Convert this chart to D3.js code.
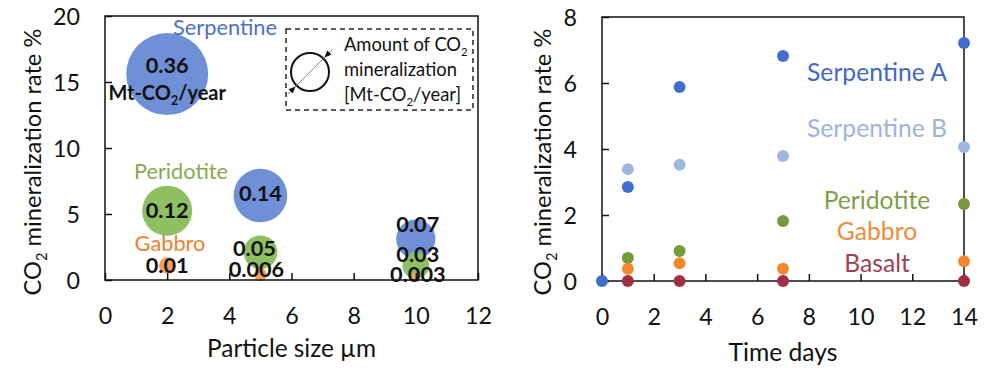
<!DOCTYPE html>
<html><head><meta charset="utf-8">
<script src="https://cdn.jsdelivr.net/npm/d3@7"></script>
<style>body{margin:0;background:#fff}svg{display:block}text{font-family:Lato,"Open Sans",sans-serif}</style>
</head><body>
<script>
// ---- Left chart data (bubble) ----
const particleSizes = [2, 5, 10];
const xTicksLeft = [0, 2, 4, 6, 8, 10, 12];
const yTicksLeft = [0, 5, 10, 15, 20];
const serpentineRate = [15.6, 6.4, 3.1];
const peridotiteRate = [5.25, 2.1, 1.1];
const gabbroRate = [1.1, 0.4, 0.2];
const serpentineAmount = [0.36, 0.14, 0.07];
const peridotiteAmount = [0.12, 0.05, 0.03];
const gabbroAmount = [0.01, 0.006, 0.003];
const serpentineLabels = ["0.36", "0.14", "0.07"];
const peridotiteLabels = ["0.12", "0.05", "0.03"];
const gabbroLabels = ["0.01", "0.006", "0.003"];

// ---- Right chart data (time series) ----
const days = [0, 1, 3, 7, 14];
const xTicksRight = [0, 2, 4, 6, 8, 10, 12, 14];
const yTicksRight = [0, 2, 4, 6, 8];
const serpentineA = [0, 2.85, 5.88, 6.82, 7.21];
const serpentineB = [null, 3.39, 3.52, 3.79, 4.06];
const peridotite = [null, 0.70, 0.91, 1.82, 2.33];
const gabbro = [null, 0.37, 0.54, 0.37, 0.60];
const basalt = [null, 0, 0, 0, 0];

const W = 993, H = 368;
const svg = d3.select("body").append("svg").attr("width", W).attr("height", H);

// font size fitting helper: returns a font size so that txt is ~target px wide
function fit(txt, target, weight) {
  const t = svg.append("text").attr("font-size", 20).attr("font-weight", weight || "normal").text(txt);
  const w = t.node().getComputedTextLength();
  t.remove();
  return 20 * target / w;
}
const FS = {
  tick: fit("20", 27),
  xTitleL: fit("Particle size µm", 169),
  xTitleR: fit("Time days", 109),
  yTitle: fit("CO2 mineralization rate %", 272),
  labL: fit("Serpentine", 104),
  labR: fit("Serpentine A", 140),
  legend: fit("mineralization", 113),
  val: fit("0.36", 43, "bold"),
  unit: fit("Mt-CO2/year", 122, "bold")
};

function drawFrame(x, y, xt, yt, xTitle, xTitleY, yTitleX, xfs) {
  const [x0, x1] = x.range(), [y0, y1] = y.range();
  const gx = svg.append("g").attr("transform", `translate(0,${y0})`)
    .call(d3.axisBottom(x).tickValues(xt).tickSizeInner(-7).tickSizeOuter(0));
  gx.select(".domain").remove();
  gx.selectAll("line").attr("stroke", "#111").attr("stroke-width", 1.5);
  gx.selectAll("text").attr("y", 36).attr("dy", "0.35em").attr("font-size", FS.tick).attr("fill", "#111").attr("font-family", null);
  const gy = svg.append("g").attr("transform", `translate(${x0},0)`)
    .call(d3.axisLeft(y).tickValues(yt).tickSizeInner(-7).tickSizeOuter(0));
  gy.select(".domain").remove();
  gy.selectAll("line").attr("stroke", "#111").attr("stroke-width", 1.5);
  gy.selectAll("text").attr("x", -25).attr("dy", "0.35em").attr("font-size", FS.tick).attr("fill", "#111").attr("font-family", null);
  svg.append("rect").attr("x", x0).attr("y", y1).attr("width", x1 - x0).attr("height", y0 - y1)
    .attr("fill", "none").attr("stroke", "#111").attr("stroke-width", 1.5);
  svg.append("text").attr("x", (x0 + x1) / 2).attr("y", xTitleY).attr("text-anchor", "middle")
    .attr("font-size", xfs).attr("fill", "#111").text(xTitle);
  const t = svg.append("text").attr("transform", `translate(${yTitleX},162) rotate(-90)`)
    .attr("text-anchor", "middle").attr("dy", "0.35em").attr("font-size", FS.yTitle).attr("fill", "#111");
  t.append("tspan").text("CO");
  t.append("tspan").attr("font-size", FS.yTitle * 0.62).attr("dy", 6).text("2");
  t.append("tspan").attr("dy", -6).text(" mineralization rate %");
}

// ---------- LEFT ----------
const xL = d3.scaleLinear([0, 12], [105, 478]);
const yL = d3.scaleLinear([0, 20], [280, 16]);
const rL = d3.scalePow().exponent(0.45).domain([0, 0.36]).range([0, 41]);

const bubbleSeries = [
  {name: "Serpentine", rate: serpentineRate, amt: serpentineAmount, lab: serpentineLabels, fill: "#6F8FD6"},
  {name: "Peridotite", rate: peridotiteRate, amt: peridotiteAmount, lab: peridotiteLabels, fill: "#8EC061"},
  {name: "Gabbro", rate: gabbroRate, amt: gabbroAmount, lab: gabbroLabels, fill: "#F5A05A"}
];
const bubbles = [];
bubbleSeries.forEach(s => particleSizes.forEach((p, i) => bubbles.push({p, r: s.rate[i], a: s.amt[i], lab: s.lab[i], fill: s.fill})));
bubbles.sort((a, b) => b.a - a.a);

svg.append("g").selectAll("circle").data(bubbles).join("circle")
  .attr("cx", d => xL(d.p)).attr("cy", d => yL(d.r)).attr("r", d => rL(d.a)).attr("fill", d => d.fill);

// label pixel nudges (style only)
const labelDy = {"0.36": -9, "0.14": -2, "0.12": 0, "0.05": -4, "0.006": -5, "0.01": 0, "0.07": -15, "0.03": -11, "0.003": -3};
const labelDx = {"0.05": -6, "0.006": -4, "0.07": 2, "0.03": 2, "0.003": 2};
svg.append("g").selectAll("text").data(bubbles).join("text")
  .attr("x", d => xL(d.p) + (labelDx[d.lab] || 0)).attr("y", d => yL(d.r) + labelDy[d.lab])
  .attr("dy", "0.35em").attr("text-anchor", "middle").attr("font-size", FS.val).attr("font-weight", "bold")
  .attr("fill", "#111").text(d => d.lab);
{
  const t = svg.append("text").attr("x", xL(2)).attr("y", yL(serpentineRate[0]) + 19).attr("dy", "0.35em")
    .attr("text-anchor", "middle").attr("font-size", FS.unit).attr("font-weight", "bold").attr("fill", "#111");
  t.append("tspan").text("Mt-CO");
  t.append("tspan").attr("font-size", FS.unit * 0.62).attr("dy", 5).text("2");
  t.append("tspan").attr("dy", -5).text("/year");
}
svg.append("text").attr("x", 225).attr("y", 27).attr("dy", "0.35em").attr("text-anchor", "middle")
  .attr("font-size", FS.labL).attr("fill", "#4E72C4").text("Serpentine");
svg.append("text").attr("x", 181).attr("y", 171).attr("dy", "0.35em").attr("text-anchor", "middle")
  .attr("font-size", FS.labL).attr("fill", "#8AA84E").text("Peridotite");
svg.append("text").attr("x", 170).attr("y", 243).attr("dy", "0.35em").attr("text-anchor", "middle")
  .attr("font-size", FS.labL).attr("fill", "#F07F30").text("Gabbro");

// legend box
svg.append("rect").attr("x", 286).attr("y", 29).attr("width", 187).attr("height", 81)
  .attr("fill", "none").attr("stroke", "#222").attr("stroke-width", 1.5).attr("stroke-dasharray", "5,4");
const lc = {x: 310, y: 72, r: 19};
svg.append("circle").attr("cx", lc.x).attr("cy", lc.y).attr("r", lc.r).attr("fill", "none").attr("stroke", "#111").attr("stroke-width", 2);
const dd = lc.r / Math.SQRT2;
svg.append("line").attr("x1", lc.x - dd - 9).attr("y1", lc.y + dd + 9).attr("x2", lc.x + dd + 9).attr("y2", lc.y - dd - 9)
  .attr("stroke", "#888").attr("stroke-width", 1);
function arrowHead(tx, ty, dir) {
  const L = 7, Wd = 3;
  const bx = tx - dir[0] * L, by = ty - dir[1] * L;
  const nx = -dir[1], ny = dir[0];
  svg.append("path").attr("d", `M${tx},${ty}L${bx + nx * Wd},${by + ny * Wd}L${bx - nx * Wd},${by - ny * Wd}Z`).attr("fill", "#111");
}
const s2 = Math.SQRT1_2;
arrowHead(lc.x + dd + 1, lc.y - dd - 1, [-s2, s2]);
arrowHead(lc.x - dd - 1, lc.y + dd + 1, [s2, -s2]);
function legendLine(y, pre, sub, post) {
  const t = svg.append("text").attr("x", 344).attr("y", y).attr("dy", "0.35em").attr("font-size", FS.legend).attr("fill", "#111");
  t.append("tspan").text(pre);
  if (sub) {
    t.append("tspan").attr("font-size", FS.legend * 0.62).attr("dy", 5).text(sub);
    if (post) t.append("tspan").attr("dy", -5).text(post);
  }
}
legendLine(45, "Amount of CO", "2", "");
legendLine(70, "mineralization");
legendLine(95, "[Mt-CO", "2", "/year]");

drawFrame(xL, yL, xTicksLeft, yTicksLeft, "Particle size µm", 357, 33, FS.xTitleL);

// ---------- RIGHT ----------
const xR = d3.scaleLinear([0, 14], [602, 964]);
const yR = d3.scaleLinear([0, 8], [281, 17]);
drawFrame(xR, yR, xTicksRight, yTicksRight, "Time days", 361, 543, FS.xTitleR);

const timeSeries = [
  {name: "Serpentine A", v: serpentineA, c: "#3F6FCC", lc: "#4068C8", ly: 72},
  {name: "Serpentine B", v: serpentineB, c: "#9DB7E1", lc: "#9CB4DE", ly: 128},
  {name: "Peridotite", v: peridotite, c: "#76993A", lc: "#7E9F45", ly: 200},
  {name: "Gabbro", v: gabbro, c: "#F5882F", lc: "#F3893A", ly: 231},
  {name: "Basalt", v: basalt, c: "#A0303F", lc: "#A23F50", ly: 263}
];
timeSeries.forEach(s => {
  const pts = days.map((d, i) => ({d, v: s.v[i]})).filter(p => p.v !== null);
  svg.append("g").selectAll("circle").data(pts).join("circle")
    .attr("cx", p => xR(p.d)).attr("cy", p => yR(p.v)).attr("r", 6).attr("fill", s.c);
  svg.append("text").attr("x", 877).attr("y", s.ly).attr("dy", "0.35em").attr("text-anchor", "middle")
    .attr("font-size", FS.labR).attr("fill", s.lc).text(s.name);
});
</script>
</body></html>
